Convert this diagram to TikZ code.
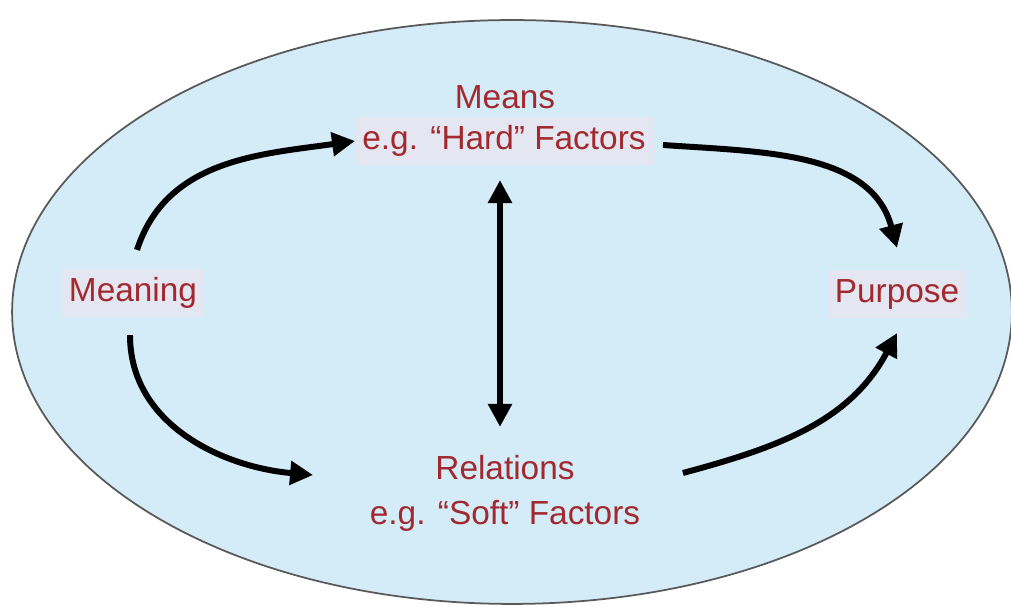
\documentclass[tikz,border=0pt]{standalone}
\usepackage{fontspec}
\setmainfont{Liberation Sans}
\usetikzlibrary{positioning,arrows.meta}
\definecolor{ovalfill}{HTML}{D4EBF8}
\definecolor{tagfill}{HTML}{E4E6F1}
\definecolor{labelred}{HTML}{A2292E}

\begin{document}
\begin{tikzpicture}[
    x=0.02cm, y=0.02cm,
    word/.style={text=labelred, font=\fontsize{19}{23}\selectfont,
                 inner xsep=0.14cm, inner ysep=0pt, minimum height=0.95cm},
    tag/.style={word, fill=tagfill},
    flow/.style={line width=3.4pt, -{Triangle[length=0.46cm, width=0.46cm]}},
    both/.style={line width=3.4pt, {Triangle[length=0.46cm, width=0.46cm]}-{Triangle[length=0.46cm, width=0.46cm]}}
]
\useasboundingbox (0,0) rectangle (1011,607);
\filldraw[fill=ovalfill, draw=black!65, line width=1pt] (512,295) ellipse [x radius=10cm, y radius=5.84cm];

\node[word] (means) at (505,510) {Means};
\node[tag] (hardf) at (504,466) {e.g. “Hard” Factors};
\node[tag] (meaning) at (133,314) {Meaning};
\node[tag] (purpose) at (897,313) {Purpose};
\node[word] (rel) at (505,139) {Relations};
\node[word, below=0pt of rel] (softf) {e.g. “Soft” Factors};

\draw[flow] ([xshift=0.08cm, yshift=0.38cm]meaning.north) to[out=72, in=188] (hardf.west);
\draw[flow] ([xshift=-0.06cm, yshift=-0.36cm]meaning.south) to[out=-90, in=175] ([xshift=-2.3cm, yshift=-0.14cm]rel.west);
\draw[flow] ([xshift=0.2cm, yshift=-0.08cm]hardf.east) to[out=-4, in=105] ([yshift=0.44cm]purpose.north);
\draw[flow] ([xshift=2.02cm, yshift=-0.1cm]rel.east) to[out=15, in=-118] ([yshift=-0.3cm]purpose.south);
\draw[both] ([xshift=-0.08cm, yshift=-0.3cm]hardf.south) -- ([xshift=-0.1cm, yshift=0.34cm]rel.north);
\end{tikzpicture}
\end{document}
